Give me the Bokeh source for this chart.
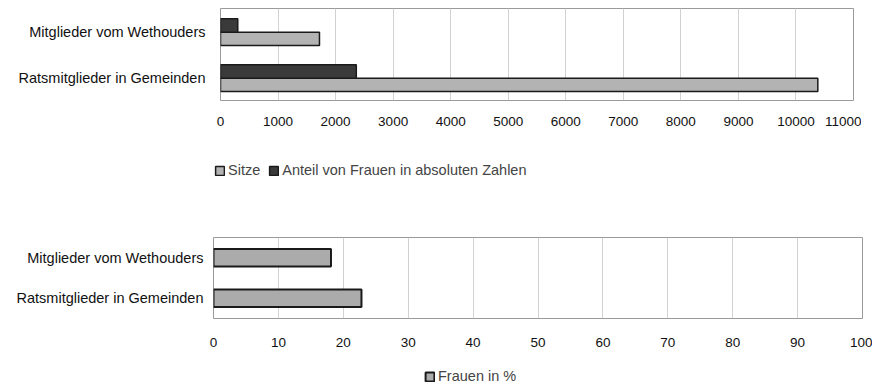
from bokeh.plotting import figure
from bokeh.models import FactorRange, Legend, LegendItem, ColumnDataSource, Range1d, FixedTicker
from bokeh.transform import dodge
from bokeh.layouts import column, row
from bokeh.embed import file_html
from bokeh.resources import INLINE

categories = ["Ratsmitglieder in Gemeinden", "Mitglieder vom Wethouders"]
sitze = [10380, 1720]
frauen_abs = [2360, 300]
frauen_pct = [22.8, 18.1]
ticks_top = list(range(0, 11001, 1000))
ticks_bottom = list(range(0, 101, 10))

FONT = "Liberation Sans"
LIGHT = "#b3b3b3"
DARK = "#3a3a3a"
PCT = "#ababab"

src = ColumnDataSource(dict(cat=categories, sitze=sitze, frauen=frauen_abs, pct=frauen_pct))


def style(p, ticks, ystand, xstand):
    p.outline_line_color = "#9a9a9a"
    p.outline_line_width = 1
    p.xaxis.ticker = FixedTicker(ticks=ticks)
    for ax in (p.xaxis[0], p.yaxis[0]):
        ax.axis_line_color = None
        ax.major_tick_out = 0
        ax.major_tick_in = 0
        ax.minor_tick_out = 0
        ax.minor_tick_in = 0
        ax.major_label_text_font = FONT
        ax.major_label_text_color = "#111111"
    p.xaxis.major_label_text_font_size = "13.5px"
    p.yaxis.major_label_text_font_size = "14.5px"
    p.yaxis.major_label_standoff = ystand
    p.xaxis.major_label_standoff = xstand
    p.ygrid.grid_line_color = None
    p.xgrid.grid_line_color = "#d2d2d2"
    p.xgrid.grid_line_width = 1


def legend_fig(width, height):
    # holder figure for the legend only; its renderers are hidden
    f = figure(width=width, height=height, output_backend="svg", toolbar_location=None,
               x_range=Range1d(0, 11000), y_range=FactorRange(*categories),
               x_axis_location=None, y_axis_location=None,
               min_border_left=0, min_border_right=0, min_border_top=0, min_border_bottom=0)
    f.outline_line_color = None
    f.grid.grid_line_color = None
    return f


def make_legend(items, loc):
    return Legend(items=items, orientation="horizontal", location=loc,
                  glyph_width=11, glyph_height=11, label_text_font=FONT,
                  label_text_font_size="14.5px", label_standoff=3, spacing=8,
                  padding=0, margin=0, border_line_color=None, background_fill_alpha=0,
                  click_policy="none")


# Top chart
p1 = figure(y_range=FactorRange(*categories), x_range=Range1d(0, 11000),
            width=861, height=145, output_backend="svg", toolbar_location=None,
            min_border_left=220, min_border_right=8, min_border_top=8, min_border_bottom=45)
style(p1, ticks_top, 15, 16)
p1.hbar(y=dodge("cat", -0.16, range=p1.y_range), left=0, right="sitze", height=0.29,
        source=src, fill_color=LIGHT, line_color="#1a1a1a", line_width=1.5)
p1.hbar(y=dodge("cat", 0.13, range=p1.y_range), left=0, right="frauen", height=0.29,
        source=src, fill_color=DARK, line_color="#1a1a1a", line_width=1.5)

# Top legend
l1 = legend_fig(861, 58)
ls = l1.hbar(y="cat", left=0, right="sitze", height=0.3, source=src,
             fill_color=LIGHT, line_color="#1a1a1a", line_width=1.5, visible=False)
lf = l1.hbar(y="cat", left=0, right="frauen", height=0.3, source=src,
             fill_color=DARK, line_color="#1a1a1a", line_width=1.5, visible=False)
l1.add_layout(make_legend([LegendItem(label="Sitze", renderers=[ls]),
                           LegendItem(label="Anteil von Frauen in absoluten Zahlen", renderers=[lf])],
                          (214, 25)), "center")

# Bottom chart
p2 = figure(y_range=FactorRange(*categories), x_range=Range1d(0, 100),
            width=872, height=150, output_backend="svg", toolbar_location=None,
            min_border_left=213, min_border_right=10, min_border_top=34, min_border_bottom=35)
style(p2, ticks_bottom, 10, 19)
p2.hbar(y="cat", left=0, right="pct", height=0.43, source=src,
        fill_color=PCT, line_color="#1a1a1a", line_width=2)

# Bottom legend
l2 = legend_fig(872, 34)
lp = l2.hbar(y="cat", left=0, right="pct", height=0.3, source=src,
             fill_color=PCT, line_color="#1a1a1a", line_width=2, visible=False)
l2.add_layout(make_legend([LegendItem(label="Frauen in %", renderers=[lp])], (424, 3)), "center")

layout = column(row(p1), row(l1), row(p2), row(l2), spacing=0)
open("out.html", "w").write(file_html(layout, INLINE))
